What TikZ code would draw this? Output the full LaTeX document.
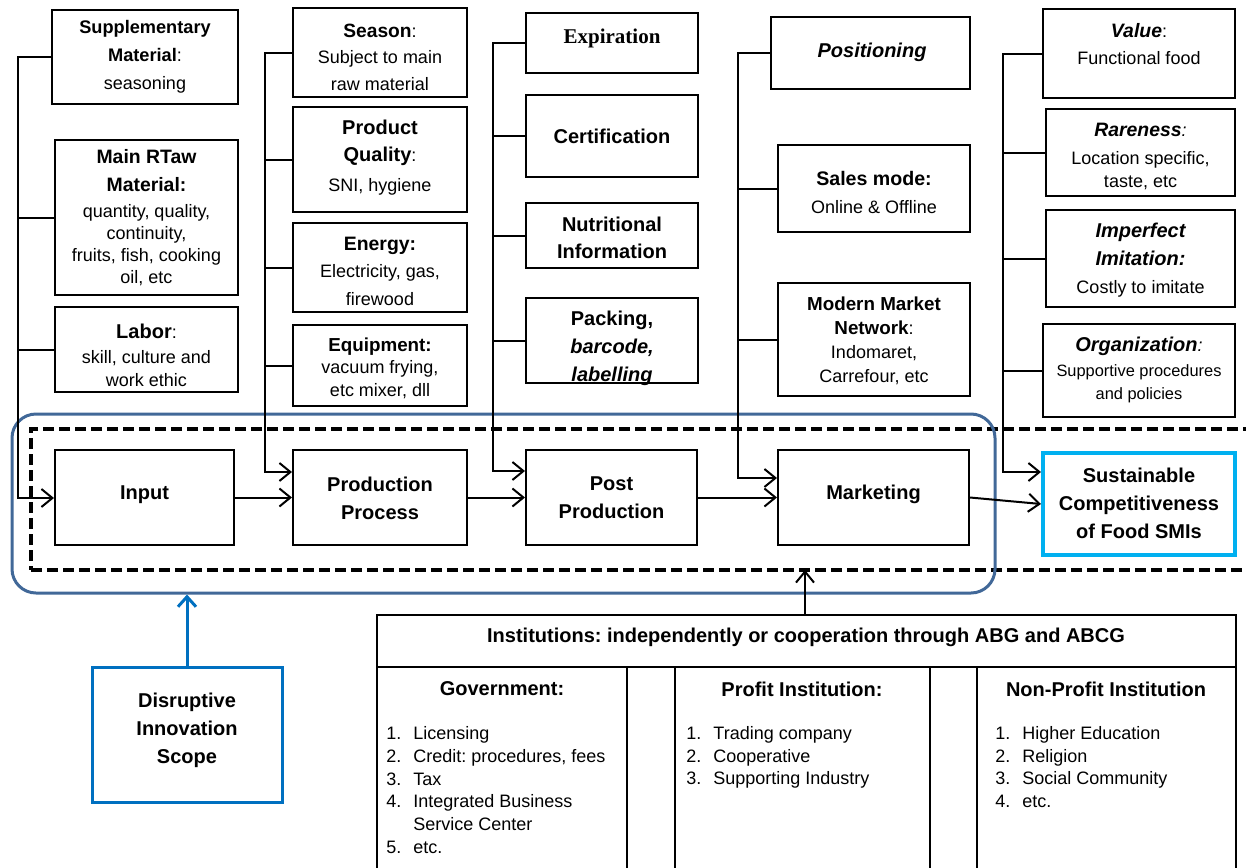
\documentclass[tikz,border=0pt]{standalone}
\usepackage{fontspec}
\setmainfont{Liberation Sans}
\newfontfamily\serifbold{Liberation Serif}
\usetikzlibrary{arrows.meta,calc}
\frenchspacing
\definecolor{scopeblue}{RGB}{65,104,152}
\definecolor{disblue}{RGB}{0,112,192}
\definecolor{cyanbox}{RGB}{0,176,240}
\newcommand\bx[6][box]{\node[#1, minimum width={(#5-#3)*0.5pt}, minimum height={(#6-#4)*0.5pt}] (#2) at ({(#3+#5)/2},{(#4+#6)/2}) {};}
\newcommand\hb[2][10]{{\fontsize{#1}{11}\selectfont\bfseries #2}}
\newcommand\hbi[2][10]{{\fontsize{#1}{11}\selectfont\bfseries\itshape #2}}
\begin{document}
\begin{tikzpicture}[x=0.5pt,y=-0.5pt,
  box/.style={draw,line width=1pt,inner sep=0pt},
  sustbox/.style={draw=cyanbox,line width=2pt,inner sep=0pt},
  scopebox/.style={draw=scopeblue,line width=1.5pt,rounded corners=12pt,inner sep=0pt},
  dashbox/.style={draw,line width=1.7pt,dash pattern=on 5.5pt off 2.5pt,inner sep=0pt},
  disbox/.style={draw=disblue,line width=1.5pt,inner sep=0pt},
  txt/.style={align=center,inner sep=0pt,font=\fontsize{9}{11}\selectfont},
  conn/.style={line width=1pt},
  arr/.style={line width=1pt,-{Straight Barb[length=5.5pt,width=9pt,line width=1pt]}},
  bluearr/.style={draw=disblue,line width=1.5pt,-{Straight Barb[length=5pt,width=9pt,line width=1.5pt]}}]
\useasboundingbox (0,0) rectangle (1246,867);

% scope and dashed zone
\bx[dashbox]{zone}{31}{429}{1300}{570}
\bx[scopebox]{scope}{12}{414}{995}{593}

% column 1
\bx{supp}{52}{10}{238}{104}
\bx{main}{55}{140}{238}{295}
\bx{labor}{55}{307}{238}{392}
% column 2
\bx{season}{293}{8}{467}{97}
\bx{quality}{293}{107}{467}{212}
\bx{energy}{293}{223}{467}{312}
\bx{equip}{293}{325}{467}{406}
% column 3
\bx{expir}{526}{13}{698}{73}
\bx{cert}{526}{95}{698}{177}
\bx{nutri}{526}{203}{698}{268}
\bx{pack}{526}{298}{698}{383}
% column 4
\bx{posit}{771}{17}{970}{89}
\bx{sales}{778}{145}{970}{232}
\bx{modern}{778}{283}{970}{396}
% column 5
\bx{value}{1043}{9}{1235}{98}
\bx{rare}{1046}{109}{1235}{196}
\bx{imperf}{1046}{210}{1235}{307}
\bx{organ}{1043}{324}{1235}{417}
% flow
\bx{input}{55}{450}{234}{545}
\bx{prod}{293}{450}{467}{545}
\bx{post}{526}{450}{697}{545}
\bx{mkt}{778}{450}{969}{545}
\bx[sustbox]{sust}{1043}{453}{1235}{555}
% disruptive
\bx[disbox]{disr}{92}{667}{282}{802}
% institutions
\bx{insthead}{377}{615}{1236}{667}
\bx{gov}{377}{667}{627}{880}
\bx{profit}{675}{667}{930}{880}
\bx{nonprof}{977}{667}{1236}{880}

% texts column 1
\node[txt,font=\fontsize{9}{14}\selectfont] (supp-t) at (145,57) {\hb[9.1]{Supplementary}\\\hb[9.1]{Material}:\\seasoning};
\node[txt] (main-t) at (146.5,218) {\hb[9.7]{Main RTaw}\\[3pt]\hb[9.7]{Material:}\\[2pt]quantity, quality,\\continuity,\\fruits, fish, cooking\\oil, etc};
\node[txt,font=\fontsize{9}{11.5}\selectfont] (labor-t) at (146.5,355) {\hb{Labor}:\\[1pt]skill, culture and\\work ethic};
% column 2
\node[txt,font=\fontsize{9}{13.25}\selectfont] (season-t) at (380,57) {\hb[9.6]{Season}:\\Subject to main\\raw material};
\node[txt,font=\fontsize{9}{13.5}\selectfont] (quality-t) at (380,157.5) {\hb{Product}\\\hb{Quality}:\\[1.5pt]SNI, hygiene};
\node[txt,font=\fontsize{9}{13.75}\selectfont] (energy-t) at (380,271) {\hb[9.7]{Energy:}\\Electricity, gas,\\firewood};
\node[txt,font=\fontsize{9}{11.25}\selectfont] (equip-t) at (380,368) {\hb[9.4]{Equipment:}\\vacuum frying,\\etc mixer, dll};
% column 3
\node[txt,font=\fontsize{10.5}{12}\serifbold\bfseries] (expir-t) at (612,38) {Expiration};
\node[txt] (cert-t) at (612,136) {\hb{Certification}};
\node[txt,font=\fontsize{9}{13.5}\selectfont] (nutri-t) at (612,238) {\hb{Nutritional}\\\hb{Information}};
\node[txt,font=\fontsize{9}{14}\selectfont] (pack-t) at (612,348) {\hb{Packing,}\\\hbi{barcode,}\\\hbi{labelling}};
% column 4
\node[txt] (posit-t) at (872,52) {\hbi{Positioning}};
\node[txt,font=\fontsize{9}{14}\selectfont] (sales-t) at (874,192) {\hb[9.8]{Sales mode:}\\Online \& Offline};
\node[txt,font=\fontsize{9}{12}\selectfont] (modern-t) at (874,341) {\hb[9.4]{Modern Market}\\\hb[9.4]{Network}:\\Indomaret,\\Carrefour, etc};
% column 5
\node[txt,font=\fontsize{9}{13.5}\selectfont] (value-t) at (1139,44) {\hbi[9.7]{Value}:\\Functional food};
\node[txt,font=\fontsize{9}{11.5}\selectfont] (rare-t) at (1140.5,156) {\hbi[9.7]{Rareness}\textit{:}\\[2.5pt]Location specific,\\taste, etc};
\node[txt,font=\fontsize{9}{14}\selectfont] (imperf-t) at (1140.5,260.5) {\hbi{Imperfect}\\\hbi{Imitation:}\\Costly to imitate};
\node[txt] (organ-t) at (1139,346) {\hbi{Organization}\textit{:}};
\node[txt,font=\fontsize{8.2}{11.5}\selectfont] (organ-s) at (1139,384) {Supportive procedures\\and policies};
% flow texts
\node[txt] (input-t) at (144.5,495) {\hb{Input}};
\node[txt,font=\fontsize{9}{14}\selectfont] (prod-t) at (380,498) {\hb{Production}\\\hb{Process}};
\node[txt,font=\fontsize{9}{14}\selectfont] (post-t) at (611.5,498) {\hb{Post}\\\hb{Production}};
\node[txt] (mkt-t) at (873.5,494) {\hb{Marketing}};
\node[txt,font=\fontsize{9}{14}\selectfont] (sust-t) at (1139,503) {\hb{Sustainable}\\\hb{Competitiveness}\\\hb{of Food SMIs}};
\node[txt,font=\fontsize{9}{14}\selectfont] (disr-t) at (187,730) {\hb{Disruptive}\\\hb{Innovation}\\\hb{Scope}};
% institutions texts
\node[txt] (insthead-t) at (806,637) {\hb{Institutions: independently or cooperation through ABG and ABCG}};
\node[txt] (gov-t) at (502,689) {\hb{Government:}};
\node[txt] (profit-t) at (802,689) {\hb{Profit Institution:}};
\node[txt] (nonprof-t) at (1106,689) {\hb{Non-Profit Institution}};
\node[txt,anchor=west,align=left,font=\fontsize{9}{11.4}\selectfont] (gov-l) at (386,792) {\begin{tabular}{@{}l@{\hspace{6pt}}l@{}}1.&Licensing\\2.&Credit: procedures, fees\\3.&Tax\\4.&Integrated Business\\&Service Center\\5.&etc.\end{tabular}};
\node[txt,anchor=west,align=left,font=\fontsize{9}{11.4}\selectfont] (profit-l) at (686,757.5) {\begin{tabular}{@{}l@{\hspace{6pt}}l@{}}1.&Trading company\\2.&Cooperative\\3.&Supporting Industry\end{tabular}};
\node[txt,anchor=west,align=left,font=\fontsize{9}{11.4}\selectfont] (nonprof-l) at (995,769) {\begin{tabular}{@{}l@{\hspace{6pt}}l@{}}1.&Higher Education\\2.&Religion\\3.&Social Community\\4.&etc.\end{tabular}};

% buses
\coordinate (bus1) at (18,498);
\draw[arr] (supp.west) -| (bus1) -- (input.west |- bus1);
\draw[conn] (main.west) -- (main.west -| bus1);
\draw[conn] (labor.west) -- (labor.west -| bus1);

\coordinate (bus2) at (265,472);
\draw[arr] (season.west) -| (bus2) -- (prod.west |- bus2);
\draw[conn] (quality.west) -- (quality.west -| bus2);
\draw[conn] (energy.west) -- (energy.west -| bus2);
\draw[conn] (equip.west) -- (equip.west -| bus2);

\coordinate (bus3) at (493,471);
\draw[arr] (expir.west) -| (bus3) -- (post.west |- bus3);
\draw[conn] (cert.west) -- (cert.west -| bus3);
\draw[conn] (nutri.west) -- (nutri.west -| bus3);
\draw[conn] (pack.west) -- (pack.west -| bus3);

\coordinate (bus4) at (738,478);
\draw[arr] (posit.west) -| (bus4) -- (mkt.west |- bus4);
\draw[conn] (sales.west) -- (sales.west -| bus4);
\draw[conn] (modern.west) -- (modern.west -| bus4);

\coordinate (bus5) at (1003,472);
\draw[arr] (value.west) -| (bus5) -- (sust.west |- bus5);
\draw[conn] (rare.west) -- (rare.west -| bus5);
\draw[conn] (imperf.west) -- (imperf.west -| bus5);
\draw[conn] (organ.west) -- (organ.west -| bus5);

% flow arrows
\draw[arr] (input) -- (prod);
\draw[arr] (prod) -- (post);
\draw[arr] (post) -- (mkt);
\draw[arr] (mkt.east) -- (sust.west);

% institutions arrow
\coordinate (zonebot) at (805,570);
\draw[arr] (zonebot |- insthead.north) -- (zonebot);
% disruptive arrow
\draw[bluearr] (disr.north) -- (disr.north |- scope.south);
\end{tikzpicture}
\end{document}
